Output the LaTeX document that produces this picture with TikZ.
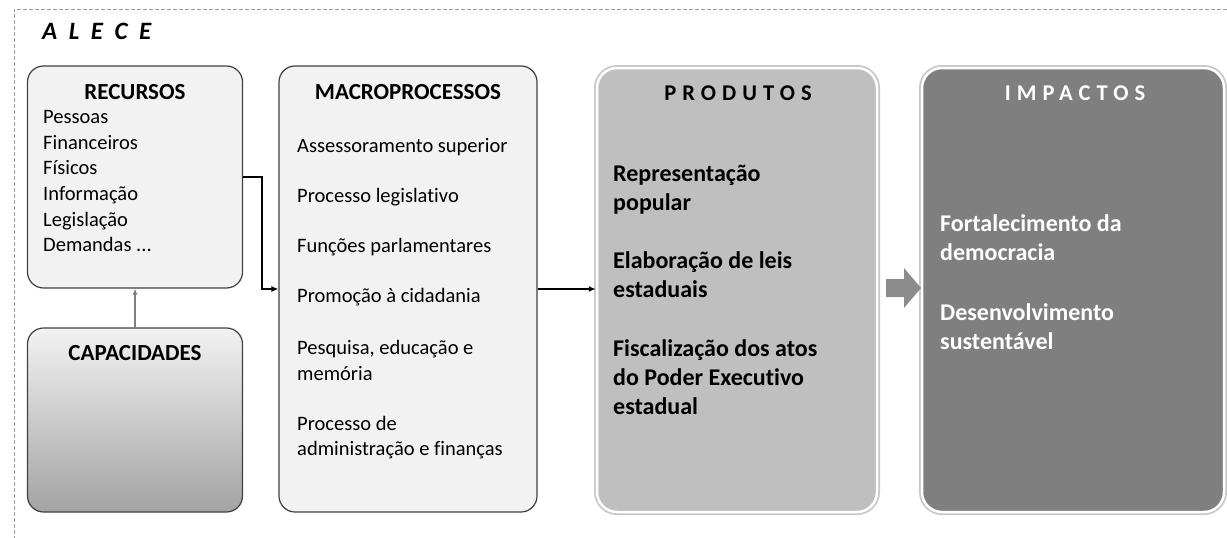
\documentclass[tikz,border=0pt]{standalone}
\usepackage{fontspec}
\setmainfont[Ligatures=NoCommon]{Carlito}
\newfontfamily\spacedfont[LetterSpace=27,Ligatures=NoCommon]{Carlito}
\usetikzlibrary{arrows.meta}
\definecolor{boxfill}{HTML}{F2F2F2}
\definecolor{boxline}{HTML}{404040}
\definecolor{prodfill}{HTML}{BFBFBF}
\definecolor{impfill}{HTML}{7F7F7F}
\definecolor{arrgray}{HTML}{8C8C8C}
\definecolor{framegray}{HTML}{9A9A9A}
\begin{document}
\begin{tikzpicture}[x=1pt,y=-1pt,
  lightbox/.style={draw=boxline, line width=1.2pt, fill=boxfill, rounded corners=16pt, inner sep=0pt},
  glowbox/.style={draw=white, line width=2.5pt, rounded corners=20pt, inner sep=0pt,
    preaction={draw=black!22, line width=6pt}},
  titlefont/.style={inner sep=0pt, font=\bfseries\fontsize{23}{28}\selectfont, text height=14.5pt, text depth=0pt},
  headfont/.style={inner sep=0pt, font=\spacedfont\bfseries\fontsize{22.5}{27}\selectfont, text height=14.5pt, text depth=0pt},
  itemr/.style={anchor=west, inner sep=0pt, font=\fontsize{20.5}{24}\selectfont, text height=12.5pt, text depth=0pt},
  itemb/.style={anchor=west, inner sep=0pt, font=\bfseries\fontsize{24}{29}\selectfont, text height=14.5pt, text depth=0pt},
  blk/.style={draw=black, line width=1.8pt, -{Latex[length=7pt,width=6pt]}},
  gry/.style={draw=impfill, line width=2pt, -{Latex[length=6pt,width=5pt]}}
]
\useasboundingbox (0,0) rectangle (1227,538);
\draw[framegray, line width=1pt, dash pattern=on 4pt off 2pt] (1227,9) -- (14,9) -- (14,538);

\node[inner sep=0pt, anchor=west, font=\bfseries\itshape\fontsize{25}{30}\selectfont, text height=16pt, text depth=0pt] (alece) at (42,31) {\spaceskip=11.5pt plus 0pt minus 0pt A L E C E};

% boxes
\node[lightbox, minimum width=215pt, minimum height=222pt] (rec) at (135,177) {};
\node[draw=boxline, line width=1.2pt, rounded corners=16pt, inner sep=0pt, top color=boxfill, bottom color=black!36,
      minimum width=215pt, minimum height=184pt] (cap) at (135,420) {};
\node[lightbox, minimum width=258pt, minimum height=446pt] (mac) at (408,289) {};
\node[glowbox, fill=prodfill, minimum width=280pt, minimum height=444pt] (prod) at (737,290) {};
\node[glowbox, fill=impfill, minimum width=302pt, minimum height=444pt] (imp) at (1073,290) {};

% RECURSOS
\node[titlefont] (rect) at (135,92) {RECURSOS};
\node[itemr] (r1) at (43,117) {Pessoas};
\node[itemr] (r2) at (43,143) {Financeiros};
\node[itemr] (r3) at (43,168) {Físicos};
\node[itemr] (r4) at (43,194) {Informação};
\node[itemr] (r5) at (43,220) {Legislação};
\node[itemr] (r6) at (43,245) {Demandas ...};

% CAPACIDADES
\node[titlefont] (capt) at (135,353) {CAPACIDADES};

% MACROPROCESSOS
\node[titlefont] (mact) at (408,92) {MACROPROCESSOS};
\node[itemr] (m1) at (297,146) {Assessoramento superior};
\node[itemr] (m2) at (297,196) {Processo legislativo};
\node[itemr] (m3) at (297,246) {Funções parlamentares};
\node[itemr] (m4) at (297,296) {Promoção à cidadania};
\node[itemr] (m5a) at (297,348) {Pesquisa, educação e};
\node[itemr] (m5b) at (297,374) {memória};
\node[itemr] (m6a) at (297,424) {Processo de};
\node[itemr] (m6b) at (297,449) {administração e finanças};

% PRODUTOS
\node[headfont] (prodt) at (738,93) {PRODUTOS};
\node[itemb] (p1a) at (613,174) {Representação};
\node[itemb] (p1b) at (613,203) {popular};
\node[itemb] (p2a) at (613,261) {Elaboração de leis};
\node[itemb] (p2b) at (613,290) {estaduais};
\node[itemb] (p3a) at (613,349) {Fiscalização dos atos};
\node[itemb] (p3b) at (613,378) {do Poder Executivo};
\node[itemb] (p3c) at (613,407) {estadual};

% IMPACTOS
\node[headfont, text=white] (impt) at (1075,93) {IMPACTOS};
\node[itemb, text=white] (i1a) at (940,224) {Fortalecimento da};
\node[itemb, text=white] (i1b) at (940,253) {democracia};
\node[itemb, text=white] (i2a) at (940,313) {Desenvolvimento};
\node[itemb, text=white] (i2b) at (940,342) {sustentável};

% connectors
\draw[blk] (rec.east) -- ++(19,0) |- (mac.west);
\draw[blk] (mac.east) -- (mac.east -| prod.west);
\draw[gry] (cap.north) -- (rec.south);

% block arrow
\coordinate (ba) at (886,288);
\fill[arrgray] (ba) ++(0,-9) -- ++(18,0) -- ++(0,-11) -- ++(17,20) -- ++(-17,20) -- ++(0,-11) -- ++(-18,0) -- cycle;
\end{tikzpicture}
\end{document}
